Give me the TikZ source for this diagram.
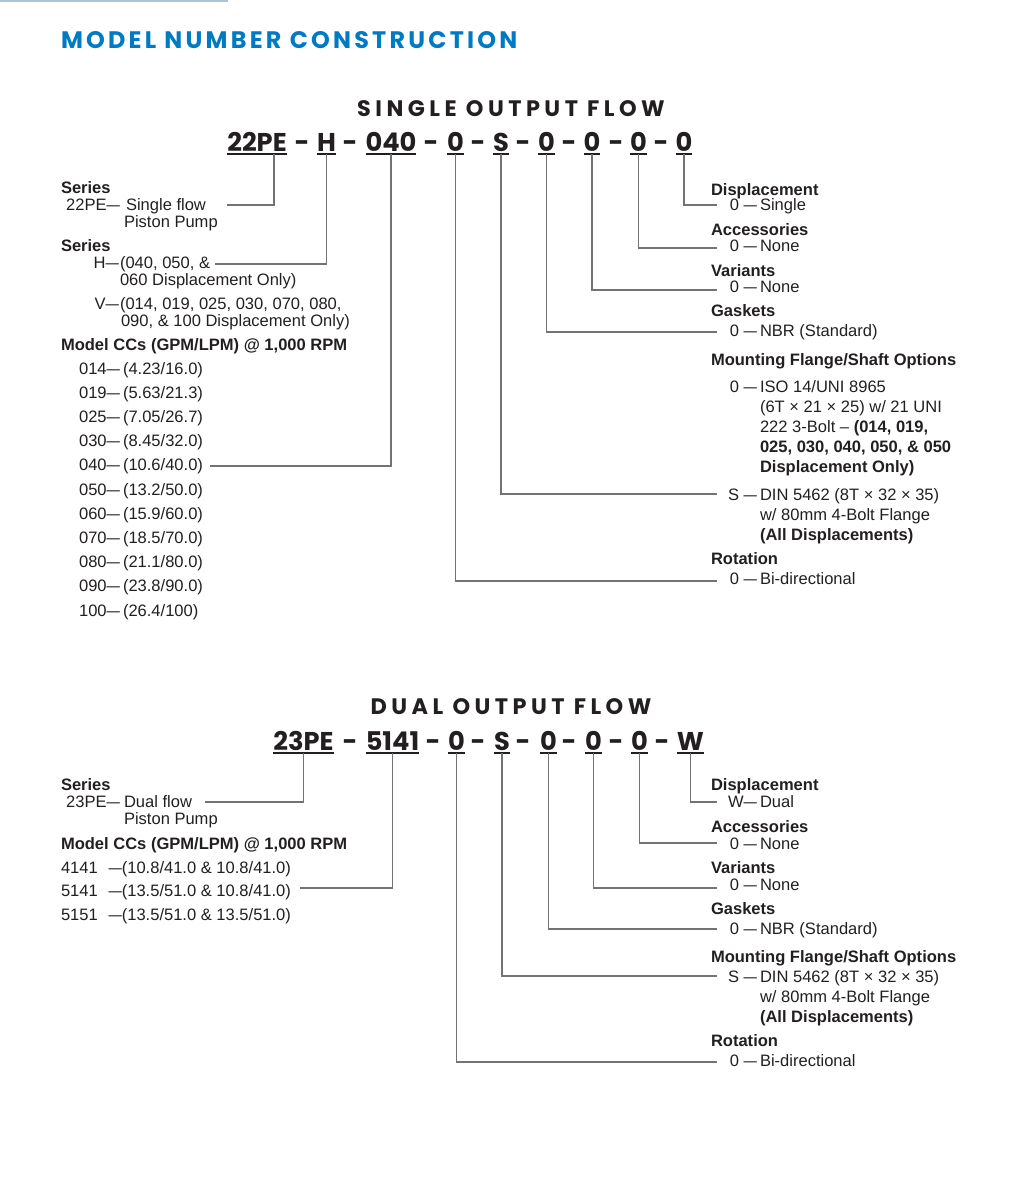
\documentclass[tikz,border=0pt]{standalone}
\usepackage{graphicx}
\usepackage{fontspec}
\setmainfont{Liberation Sans}
\newfontfamily\popfont{Poppins}
\newfontfamily\popwide{Poppins}[LetterSpace=20]
\newfontfamily\popmain{Poppins}[LetterSpace=13.5]
\usetikzlibrary{calc}
\definecolor{ttlblue}{RGB}{0,122,194}
\definecolor{ink}{RGB}{35,31,32}
\definecolor{wire}{RGB}{115,115,115}
\definecolor{toprule}{RGB}{172,196,212}
\newcommand\txtsize{\fontsize{12.4}{14}\selectfont}
\newcommand\mdash{\scalebox{1.45}[1]{–}}

\begin{document}
\begin{tikzpicture}[x=0.75pt,y=-0.75pt,
every node/.style={inner sep=0pt,outer sep=0pt,text=ink},
txt/.style={anchor=base west,font=\txtsize},
hd/.style={anchor=base west,font=\txtsize\bfseries},
pre/.style={anchor=base east,font=\txtsize},
ttl/.style={anchor=base,font=\popwide\bfseries\fontsize{16.8}{19}\selectfont},
seg/.style={anchor=base,font=\popfont\bfseries\fontsize{19.3}{22}\selectfont,
  inner ysep=2.6pt,text depth=0pt},
sepdash/.style={anchor=base,font=\popfont\bfseries\fontsize{19.3}{22}\selectfont},
uline/.style={draw=ink,line width=1.5pt},
conn/.style={draw=wire,line width=0.8pt}]
\useasboundingbox (0,0) rectangle (1020,1200);
\draw[toprule,line width=1.5pt] (0,1) -- (228,1);
\node[anchor=base west,text=ttlblue,font=\popmain\bfseries\fontsize{17.9}{20}\selectfont]
  (main) at (61,48.3) {MODEL NUMBER CONSTRUCTION};

% single output flow
\node[ttl] (sttl) at (511,116.7) {SINGLE OUTPUT FLOW};
\node[seg] (c1) at (257,151) {22PE};
\node[seg] (c2) at (326.5,151) {H};
\node[seg] (c3) at (391,151) {040};
\node[seg] (c4) at (455.5,151) {0};
\node[seg] (c5) at (501,151) {S};
\node[seg] (c6) at (546.5,151) {0};
\node[seg] (c7) at (592,151) {0};
\node[seg] (c8) at (638.5,151) {0};
\node[seg] (c9) at (684,151) {0};
\foreach \x [count=\i] in {302,350,431,478,523,569,616,661}
  \node[sepdash] (cs\i) at (\x,151) {-};
\foreach \n in {c1,c2,c3,c4,c5,c6,c7,c8,c9}
  \draw[uline] (\n.south west) -- (\n.south east);

\node[hd] (ls1) at (61,193) {Series};
\node[pre] (ls2p) at (120,210.7) {22PE\mdash};
\node[txt] (ls2) at (126,210.7) {Single flow};
\node[txt] (ls3) at (124,227.3) {Piston Pump};
\node[hd] (ls4) at (61,251.7) {Series};
\node[pre] (ls5p) at (119,268.3) {H\mdash};
\node[txt] (ls5) at (120,268.3) {(040, 050, \&};
\node[txt] (ls6) at (120,285) {060 Displacement Only)};
\node[pre] (ls7p) at (119,309) {V\mdash};
\node[txt] (ls7) at (120,309) {(014, 019, 025, 030, 070, 080,};
\node[txt] (ls8) at (121,326) {090, \& 100 Displacement Only)};
\node[hd] (ls9) at (61,350.5) {Model CCs (GPM/LPM) @ 1,000 RPM};
\foreach \cc/\g/\l [count=\i from 0] in {014/4.23/16.0,019/5.63/21.3,
  025/7.05/26.7,030/8.45/32.0,040/10.6/40.0,050/13.2/50.0,060/15.9/60.0,
  070/18.5/70.0,080/21.1/80.0,090/23.8/90.0,100/26.4/100}
{
  \node[pre] (cp\cc) at (120,374+24.2*\i) {\cc\mdash};
  \node[txt] (cv\cc) at (123,374+24.2*\i) {(\g/\l)};
}

\node[hd] (rs1) at (711,195) {Displacement};
\node[pre] (rs1p) at (757,210.7) {0 \mdash};
\node[txt] (rs1t) at (760,210.7) {Single};
\node[hd] (rs2) at (711,235) {Accessories};
\node[pre] (rs2p) at (757,251.7) {0 \mdash};
\node[txt] (rs2t) at (760,251.7) {None};
\node[hd] (rs3) at (711,276) {Variants};
\node[pre] (rs3p) at (757,292.3) {0 \mdash};
\node[txt] (rs3t) at (760,292.3) {None};
\node[hd] (rs4) at (711,316.7) {Gaskets};
\node[pre] (rs4p) at (757,336.7) {0 \mdash};
\node[txt] (rs4t) at (760,336.7) {NBR (Standard)};
\node[hd] (rs5) at (711,365) {Mounting Flange/Shaft Options};
\node[pre] (rs5p) at (757,392) {0 \mdash};
\node[txt] (rs5a) at (760,392) {ISO 14/UNI 8965};
\node[txt] (rs5b) at (760,412) {(6T × 21 × 25) w/ 21 UNI};
\node[txt] (rs5c) at (760,432) {222 3-Bolt – \textbf{(014, 019,}};
\node[txt] (rs5d) at (760,452) {\textbf{025, 030, 040, 050, \& 050}};
\node[txt] (rs5e) at (760,472) {\textbf{Displacement Only)}};
\node[pre] (rs6p) at (757,500) {S \mdash};
\node[txt] (rs6a) at (760,500) {DIN 5462 (8T × 32 × 35)};
\node[txt] (rs6b) at (760,520) {w/ 80mm 4-Bolt Flange};
\node[txt] (rs6c) at (760,540) {\textbf{(All Displacements)}};
\node[hd] (rs7) at (711,564) {Rotation};
\node[pre] (rs7p) at (757,584) {0 \mdash};
\node[txt] (rs7t) at (760,584) {Bi-directional};

\coordinate (k1) at (227,205);
\coordinate (k2) at (215,264);
\coordinate (k3) at (210,466);
\coordinate (k4) at (717,581);
\coordinate (k5) at (717,494);
\coordinate (k6) at (717,332);
\coordinate (k7) at (717,290);
\coordinate (k8) at (717,248);
\coordinate (k9) at (717,205);
\draw[conn] ([xshift=12.75pt]c1.south) |- (k1);
\foreach \i in {2,...,9}
  \draw[conn] (c\i.south) |- (k\i);

% dual output flow
\node[ttl] (dttl) at (511,714) {DUAL OUTPUT FLOW};
\node[seg] (d1) at (303.5,750) {23PE};
\node[seg] (d2) at (392.5,750) {5141};
\node[seg] (d3) at (456.5,750) {0};
\node[seg] (d4) at (502,750) {S};
\node[seg] (d5) at (548.5,750) {0};
\node[seg] (d6) at (593.5,750) {0};
\node[seg] (d7) at (639.5,750) {0};
\node[seg] (d8) at (690.5,750) {W};
\foreach \x [count=\i] in {350,433,478,523,569,616,662}
  \node[sepdash] (ds\i) at (\x,750) {-};
\foreach \n in {d1,d2,d3,d4,d5,d6,d7,d8}
  \draw[uline] (\n.south west) -- (\n.south east);

\node[hd] (ld1) at (61,790.5) {Series};
\node[pre] (ld2p) at (120,807.3) {23PE\mdash};
\node[txt] (ld2) at (124,807.3) {Dual flow};
\node[txt] (ld3) at (124,824) {Piston Pump};
\node[hd] (ld4) at (61,849) {Model CCs (GPM/LPM) @ 1,000 RPM};
\foreach \cc/\ga/\la/\gb/\lb [count=\i from 0] in {4141/10.8/41.0/10.8/41.0,
  5141/13.5/51.0/10.8/41.0,5151/13.5/51.0/13.5/51.0}
{
  \node[txt] (dp\cc) at (61,873+23.9*\i) {\cc};
  \node[txt] (dv\cc) at (108.5,873+23.9*\i) {\mdash(\ga/\la{} \& \gb/\lb)};
}

\node[hd] (rd1) at (711,790) {Displacement};
\node[pre] (rd1p) at (757,807) {W\mdash};
\node[txt] (rd1t) at (760,807) {Dual};
\node[hd] (rd2) at (711,832) {Accessories};
\node[pre] (rd2p) at (757,849) {0 \mdash};
\node[txt] (rd2t) at (760,849) {None};
\node[hd] (rd3) at (711,873) {Variants};
\node[pre] (rd3p) at (757,890) {0 \mdash};
\node[txt] (rd3t) at (760,890) {None};
\node[hd] (rd4) at (711,914) {Gaskets};
\node[pre] (rd4p) at (757,934) {0 \mdash};
\node[txt] (rd4t) at (760,934) {NBR (Standard)};
\node[hd] (rd5) at (711,962) {Mounting Flange/Shaft Options};
\node[pre] (rd5p) at (757,982) {S \mdash};
\node[txt] (rd5a) at (760,982) {DIN 5462 (8T × 32 × 35)};
\node[txt] (rd5b) at (760,1002) {w/ 80mm 4-Bolt Flange};
\node[txt] (rd5c) at (760,1022) {\textbf{(All Displacements)}};
\node[hd] (rd6) at (711,1046.5) {Rotation};
\node[pre] (rd6p) at (757,1066) {0 \mdash};
\node[txt] (rd6t) at (760,1066) {Bi-directional};

\coordinate (m1) at (205,802);
\coordinate (m2) at (300,888);
\coordinate (m3) at (717,1062);
\coordinate (m4) at (717,976);
\coordinate (m5) at (717,929);
\coordinate (m6) at (717,888);
\coordinate (m7) at (717,843);
\coordinate (m8) at (717,802);
\foreach \i in {1,...,8}
  \draw[conn] (d\i.south) |- (m\i);
\end{tikzpicture}
\end{document}
